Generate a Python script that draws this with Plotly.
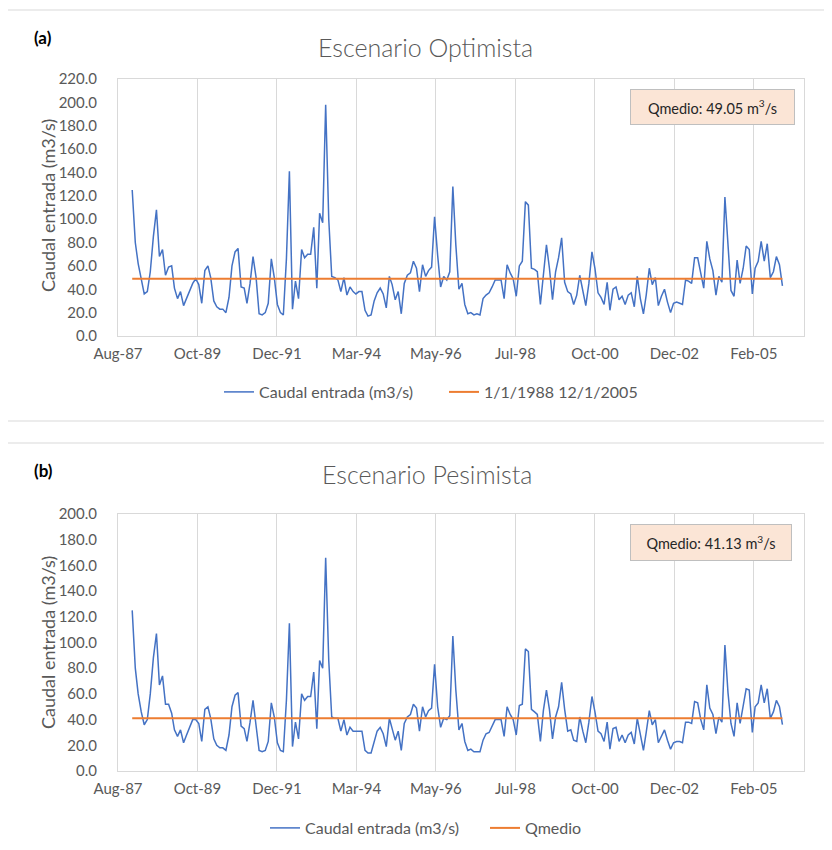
import pandas as pd
import plotly.graph_objects as go

# ---------------- data ----------------
start_month = "1988-01-01"
end_month = "2005-12-01"
months = pd.date_range(start_month, end_month, freq="MS")

caudal_optimista = [
    125, 80, 62, 50, 36, 38, 55, 85, 108, 68,
    74, 52, 59, 60, 41, 32, 38, 26, 32, 38,
    45, 49, 44, 28, 56, 60, 50, 30, 25, 23,
    23, 20, 33, 60, 72, 75, 42, 41, 28, 45,
    68, 50, 19, 18, 20, 28, 66, 50, 27, 20,
    18, 66, 141, 23, 47, 32, 74, 67, 70, 70,
    93, 41, 105, 97, 198, 100, 51, 50, 48, 38,
    50, 35, 42, 38, 36, 38, 38, 22, 17, 18,
    30, 37, 41, 36, 24, 51, 44, 31, 38, 19,
    45, 52, 54, 64, 58, 38, 61, 51, 56, 59,
    102, 69, 42, 51, 48, 55, 128, 78, 40, 45,
    27, 19, 20, 18, 19, 18, 32, 35, 37, 42,
    48, 48, 48, 32, 61, 54, 49, 34, 60, 64,
    115, 112, 58, 57, 55, 27, 52, 78, 58, 31,
    55, 67, 84, 46, 38, 36, 27, 35, 52, 38,
    26, 45, 72, 58, 37, 33, 27, 46, 22, 40,
    42, 31, 34, 27, 35, 37, 25, 51, 32, 19,
    35, 58, 44, 50, 26, 34, 40, 29, 20, 28,
    29, 28, 27, 48, 47, 45, 67, 67, 52, 41,
    81, 66, 56, 35, 51, 46, 119, 78, 39, 34,
    65, 45, 58, 77, 74, 36, 58, 64, 81, 64,
    79, 50, 55, 68, 61, 43,
]

caudal_pesimista = [
    125, 80, 60, 46, 36, 40, 60, 88, 107, 67,
    74, 52, 52, 45, 32, 27, 32, 22, 28, 34,
    40, 40, 37, 23, 48, 50, 41, 25, 20, 18,
    18, 16, 28, 50, 59, 61, 35, 33, 23, 38,
    55, 35, 16, 15, 16, 23, 53, 42, 22, 16,
    15, 55, 115, 19, 38, 25, 60, 55, 58, 58,
    77, 33, 86, 80, 166, 86, 42, 41, 41, 31,
    40, 28, 34, 31, 31, 31, 31, 16, 14, 14,
    23, 31, 34, 29, 19, 41, 33, 24, 31, 16,
    37, 42, 44, 52, 49, 31, 50, 42, 47, 49,
    83, 50, 34, 41, 40, 43, 105, 63, 32, 37,
    23, 16, 17, 15, 15, 15, 24, 29, 30, 35,
    40, 40, 40, 27, 50, 44, 40, 28, 51, 52,
    95, 93, 48, 46, 44, 23, 47, 63, 48, 25,
    42, 50, 69, 48, 31, 32, 24, 23, 42, 31,
    22, 38, 58, 46, 31, 29, 23, 38, 17, 33,
    34, 23, 28, 22, 28, 30, 21, 41, 27, 16,
    30, 47, 36, 40, 22, 27, 32, 24, 17, 22,
    23, 23, 22, 38, 38, 37, 54, 53, 40, 32,
    67, 49, 44, 29, 42, 38, 98, 61, 37, 27,
    53, 37, 50, 64, 63, 30, 50, 53, 67, 53,
    64, 41, 46, 55, 50, 36,
]

qmedio_optimista = 49.05
qmedio_pesimista = 41.13

tick_dates = ["1987-08-11", "1989-10-19", "1991-12-28", "1994-03-07", "1996-05-15",
              "1998-07-24", "2000-10-01", "2002-12-10", "2005-02-17"]
x_range = ["1987-08-11", "2006-07-06"]
y_ticks_a = [0, 20, 40, 60, 80, 100, 120, 140, 160, 180, 200, 220]
y_ticks_b = [0, 20, 40, 60, 80, 100, 120, 140, 160, 180, 200]

title_a = "Escenario Optimista"
title_b = "Escenario Pesimista"
y_title = "Caudal entrada (m3/s)"
name_caudal = "Caudal entrada (m3/s)"
name_mean_a = "1/1/1988 12/1/2005"
name_mean_b = "Qmedio"

# ---------------- layout helpers ----------------
# the page body has an 8px margin, so screen coordinates are offset by 8px
W, H = 832, 850
OFF = 8
def px(x):
    return (x - OFF) / W
def py(y):
    return 1 - (y - OFF) / H

BLUE = "#4472C4"
ORANGE = "#ED7D31"
GRAY_TXT = "#595959"
GRID = "#D9D9D9"
FONT = "Lato"

fig = go.Figure()

mean_dates = [months[0], months[-1]]

fig.add_trace(go.Scatter(x=months, y=caudal_optimista, mode="lines", name=name_caudal,
                         line=dict(color=BLUE, width=1.5), xaxis="x", yaxis="y", legend="legend"))
fig.add_trace(go.Scatter(x=mean_dates, y=[qmedio_optimista] * 2, mode="lines", name=name_mean_a,
                         line=dict(color=ORANGE, width=2), xaxis="x", yaxis="y", legend="legend"))
fig.add_trace(go.Scatter(x=months, y=caudal_pesimista, mode="lines", name=name_caudal,
                         line=dict(color=BLUE, width=1.5), xaxis="x2", yaxis="y2", legend="legend2"))
fig.add_trace(go.Scatter(x=mean_dates, y=[qmedio_pesimista] * 2, mode="lines", name=name_mean_b,
                         line=dict(color=ORANGE, width=2), xaxis="x2", yaxis="y2", legend="legend2"))

xdom = [px(118), px(804)]
xaxis_common = dict(
    type="date", range=x_range, tickvals=tick_dates, tickformat="%b-%y",
    showgrid=True, gridcolor=GRID, gridwidth=1, ticks="",
    showline=True, linecolor=GRID, linewidth=1, mirror=True,
    tickfont=dict(family=FONT, size=15, color=GRAY_TXT), zeroline=False,
    ticklabelstandoff=4, fixedrange=True, automargin=False,
)
yaxis_common = dict(
    tickformat=".1f", showgrid=False, ticks="", zeroline=False,
    showline=True, linecolor=GRID, linewidth=1, mirror=True,
    tickfont=dict(family=FONT, size=15, color=GRAY_TXT), ticklabelstandoff=17,
    fixedrange=True, automargin=False,
)

legend_common = dict(
    orientation="h", xanchor="left", yanchor="middle",
    font=dict(family=FONT, size=16, color=GRAY_TXT),
    bgcolor="rgba(0,0,0,0)", borderwidth=0,
    entrywidthmode="pixels", tracegroupgap=0,
)

fig.update_layout(
    width=W, height=H, margin=dict(l=0, r=0, t=0, b=0, autoexpand=False),
    paper_bgcolor="white", plot_bgcolor="white",
    xaxis=dict(domain=xdom, anchor="y", **xaxis_common),
    yaxis=dict(domain=[py(336), py(79)], anchor="x", range=[0, 220], tickvals=y_ticks_a, **yaxis_common),
    xaxis2=dict(domain=xdom, anchor="y2", **xaxis_common),
    yaxis2=dict(domain=[py(771), py(514)], anchor="x2", range=[0, 200], tickvals=y_ticks_b, **yaxis_common),
    legend=dict(x=px(219), y=py(392), entrywidth=180, **legend_common),
    legend2=dict(x=px(265), y=py(828), entrywidth=175, **legend_common),
    showlegend=True,
    shapes=[
        dict(type="rect", xref="paper", yref="paper", x0=px(7), x1=px(850), y0=py(421), y1=py(10),
             line=dict(color=GRID, width=1), fillcolor="rgba(0,0,0,0)", layer="below"),
        dict(type="rect", xref="paper", yref="paper", x0=px(7), x1=px(850), y0=py(870), y1=py(443),
             line=dict(color=GRID, width=1), fillcolor="rgba(0,0,0,0)", layer="below"),
    ],
    annotations=[
        dict(text=title_a, x=px(425), y=py(47), xref="paper", yref="paper", showarrow=False,
             xanchor="center", yanchor="middle", font=dict(family=FONT, size=25, color=GRAY_TXT, weight=300)),
        dict(text=title_b, x=px(427), y=py(474), xref="paper", yref="paper", showarrow=False,
             xanchor="center", yanchor="middle", font=dict(family=FONT, size=25, color=GRAY_TXT, weight=300)),
        dict(text="(a)", x=px(43), y=py(38), xref="paper", yref="paper", showarrow=False,
             xanchor="center", yanchor="middle", font=dict(family=FONT, size=17, color="#000000", weight=700)),
        dict(text="(b)", x=px(43), y=py(470), xref="paper", yref="paper", showarrow=False,
             xanchor="center", yanchor="middle", font=dict(family=FONT, size=17, color="#000000", weight=700)),
        dict(text=y_title, x=px(48), y=py(206), xref="paper", yref="paper", showarrow=False, textangle=-90,
             xanchor="center", yanchor="middle", font=dict(family=FONT, size=18, color=GRAY_TXT)),
        dict(text=y_title, x=px(48), y=py(643), xref="paper", yref="paper", showarrow=False, textangle=-90,
             xanchor="center", yanchor="middle", font=dict(family=FONT, size=18, color=GRAY_TXT)),
        dict(text=f"Qmedio: {qmedio_optimista:.2f} m<sup>3</sup>/s", x=px(712.5), y=py(107),
             xref="paper", yref="paper", showarrow=False, xanchor="center", yanchor="middle",
             width=161, height=32, borderpad=1, bgcolor="#FBE5D6", bordercolor="#BFBFBF", borderwidth=1,
             font=dict(family=FONT, size=14.5, color="#262626")),
        dict(text=f"Qmedio: {qmedio_pesimista:.2f} m<sup>3</sup>/s", x=px(711), y=py(542.5),
             xref="paper", yref="paper", showarrow=False, xanchor="center", yanchor="middle",
             width=158, height=33, borderpad=1, bgcolor="#FBE5D6", bordercolor="#BFBFBF", borderwidth=1,
             font=dict(family=FONT, size=14.5, color="#262626")),
    ],
)

fig.write_html("out.html")
